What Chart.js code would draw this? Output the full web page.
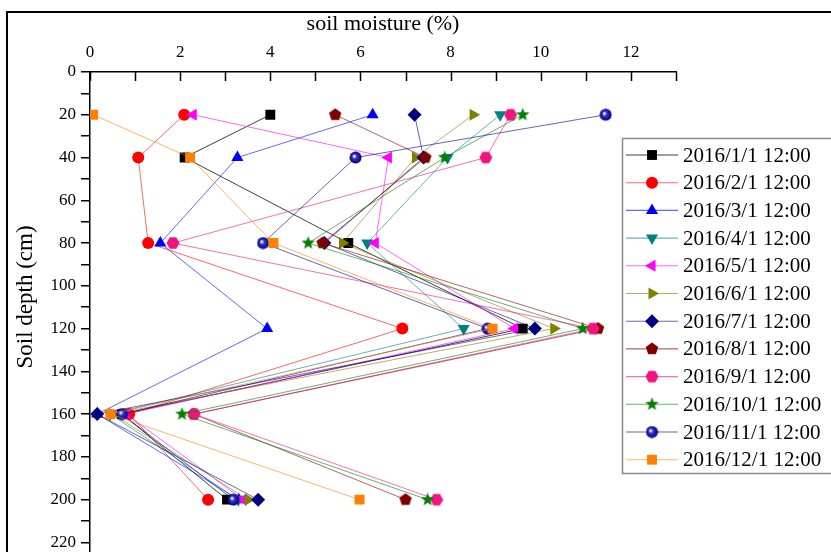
<!DOCTYPE html>
<html>
<head>
<meta charset="utf-8">
<script src="https://cdn.jsdelivr.net/npm/chart.js@4.4.0/dist/chart.umd.min.js"></script>
<style>
    html, body { margin: 0; padding: 0; background: #fff; overflow: hidden; width: 831px; height: 552px; }
    #wrap { position: absolute; left: 0; top: 0; width: 831px; height: 579px; }
    #frame { position: absolute; left: 6px; top: 11px; width: 900px; height: 700px;
             border-top: 2px solid #000; border-left: 2px solid #000; pointer-events: none; }
</style>
</head>
<body>
<div id="wrap"><canvas id="chart" width="831" height="579"></canvas></div>
<div id="frame"></div>
<script>
// soil depth (cm) of each measurement
const depths = [20, 40, 80, 120, 160, 200];

// soil moisture (%) per date, same order as depths
const jan = [4.0, 2.1, 5.73, 9.6, 0.71, 3.04];
const feb = [2.09, 1.07, 1.29, 6.93, 0.87, 2.62];
const mar = [6.27, 3.27, 1.56, 3.93, 0.16, 3.3];
const apr = [9.1, 7.93, 6.15, 8.29, 0.45, 3.29];
const may = [2.29, 6.62, 6.33, 9.42, 0.8, 3.4];
const jun = [8.5, 7.22, 5.6, 10.29, 0.5, 3.51];
const jul = [7.2, 7.4, 5.2, 9.87, 0.16, 3.73];
const aug = [5.44, 7.44, 5.16, 11.27, 2.3, 7.0];
const sep = [9.33, 8.78, 1.84, 11.16, 2.31, 7.69];
const oct = [9.6, 7.87, 4.84, 10.93, 2.04, 7.49];
const nov = [11.44, 5.89, 3.84, 8.82, 0.71, 3.18];
const dec = [0.07, 2.22, 4.07, 8.93, 0.45, 5.98];

const seriesLabels = [
    '2016/1/1 12:00', '2016/2/1 12:00', '2016/3/1 12:00', '2016/4/1 12:00',
    '2016/5/1 12:00', '2016/6/1 12:00', '2016/7/1 12:00', '2016/8/1 12:00',
    '2016/9/1 12:00', '2016/10/1 12:00', '2016/11/1 12:00', '2016/12/1 12:00'
];
const seriesValues = [jan, feb, mar, apr, may, jun, jul, aug, sep, oct, nov, dec];

const xTicks = [0, 2, 4, 6, 8, 10, 12];
const yTicks = [0, 20, 40, 60, 80, 100, 120, 140, 160, 180, 200, 220];

// small canvases for the marker shapes Chart.js does not have
function makeMarker(kind, color, size) {
    const c = document.createElement('canvas');
    c.width = size; c.height = size;
    const g = c.getContext('2d');
    const cx = size / 2, cy = size / 2, r = size / 2 - 0.5;
    g.fillStyle = color;
    g.beginPath();
    if (kind === 'ball') {
        const grad = g.createRadialGradient(cx - 1.5, cy - 1.5, 0.5, cx, cy, r);
        grad.addColorStop(0, '#ffffff');
        grad.addColorStop(0.35, '#3030c0');
        grad.addColorStop(1, color);
        g.fillStyle = grad;
        g.arc(cx, cy, r, 0, Math.PI * 2);
    } else {
        const n = kind === 'pentagon' ? 5 : kind === 'hexagon' ? 6 : 10;
        const start = kind === 'hexagon' ? 0 : -Math.PI / 2;
        for (let i = 0; i < n; i++) {
            const a = start + i * 2 * Math.PI / n;
            const rr = kind === 'star' && i % 2 === 1 ? r * 0.42 : r;
            const px = cx + rr * Math.cos(a), py = cy + rr * Math.sin(a);
            if (i === 0) g.moveTo(px, py); else g.lineTo(px, py);
        }
        g.closePath();
    }
    g.fill();
    return c;
}

const styles = [
    { color: '#000000', line: 'rgba(0,0,0,0.75)', point: 'rect', radius: 7 },
    { color: '#ff0000', line: 'rgba(255,0,0,0.6)', point: 'circle', radius: 6 },
    { color: '#0000ff', line: 'rgba(0,0,255,0.6)', point: 'triangle', radius: 7 },
    { color: '#008080', line: 'rgba(0,128,128,0.6)', point: 'triangle', radius: 7, rotation: 180 },
    { color: '#ff00ff', line: 'rgba(255,0,255,0.6)', point: 'triangle', radius: 7, rotation: -90 },
    { color: '#808000', line: 'rgba(128,128,0,0.6)', point: 'triangle', radius: 7, rotation: 90 },
    { color: '#000080', line: 'rgba(0,0,128,0.6)', point: 'rectRot', radius: 7 },
    { color: '#800000', line: 'rgba(128,0,0,0.6)', point: makeMarker('pentagon', '#800000', 14), radius: 7 },
    { color: '#f0147f', line: 'rgba(240,20,127,0.6)', point: makeMarker('hexagon', '#f0147f', 14), radius: 7 },
    { color: '#008000', line: 'rgba(0,128,0,0.6)', point: makeMarker('star', '#008000', 15), radius: 7 },
    { color: '#000080', line: 'rgba(0,0,128,0.6)', point: makeMarker('ball', '#000080', 13), radius: 7 },
    { color: '#ff8000', line: 'rgba(255,128,0,0.6)', point: 'rect', radius: 7 }
];

const datasets = seriesValues.map((vals, i) => ({
    label: seriesLabels[i],
    data: vals.map((v, k) => ({ x: v, y: depths[k] })),
    showLine: true,
    borderColor: styles[i].line,
    borderWidth: 1,
    pointStyle: styles[i].point,
    pointRotation: styles[i].rotation || 0,
    pointRadius: styles[i].radius,
    pointBackgroundColor: styles[i].color,
    pointBorderColor: styles[i].color,
    pointBorderWidth: 0,
    order: seriesValues.length - i
}));

const serif = '"Liberation Serif", "Times New Roman", serif';

// ticks on the moisture axis point down into the plot, and the legend box sits over the plot
const extrasPlugin = {
    id: 'extras',
    afterDraw(chart) {
        const ctx = chart.ctx;
        const xs = chart.scales.x;
        const top = chart.chartArea.top;
        ctx.save();
        ctx.strokeStyle = '#000';
        ctx.lineWidth = 1.5;
        for (let v = xs.min; v <= xs.max; v++) {
            const px = Math.round(xs.getPixelForValue(v)) + 0.5;
            ctx.beginPath();
            ctx.moveTo(px, top);
            ctx.lineTo(px, top + 9);
            ctx.stroke();
        }

        // y title
        ctx.save();
        ctx.translate(26, 297);
        ctx.rotate(-Math.PI / 2);
        ctx.fillStyle = '#000';
        ctx.font = '23px ' + serif;
        ctx.textAlign = 'center';
        ctx.textBaseline = 'middle';
        ctx.fillText('Soil depth (cm)', 0, 0);
        ctx.restore();

        // legend
        const lx = 622, ly = 138;
        ctx.fillStyle = '#fff';
        ctx.fillRect(lx, ly, 240, 335);
        ctx.strokeStyle = '#8a8a8a';
        ctx.lineWidth = 1.5;
        ctx.strokeRect(lx + 0.5, ly + 0.5, 240, 335);
        chart.data.datasets.forEach((ds, i) => {
            const y = ly + 17 + i * 27.7;
            ctx.strokeStyle = ds.borderColor;
            ctx.lineWidth = 1.1;
            ctx.beginPath();
            ctx.moveTo(lx + 4, y);
            ctx.lineTo(lx + 56, y);
            ctx.stroke();
            ctx.fillStyle = ds.pointBackgroundColor;
            ctx.strokeStyle = ds.pointBorderColor;
            Chart.helpers.drawPoint(ctx, {
                pointStyle: ds.pointStyle, rotation: ds.pointRotation,
                radius: ds.pointRadius, borderWidth: 0
            }, lx + 30, y);
            ctx.fillStyle = '#000';
            ctx.font = '21px ' + serif;
            ctx.textAlign = 'left';
            ctx.textBaseline = 'middle';
            ctx.fillText(ds.label, lx + 61, y + 1);
        });
        ctx.restore();
    }
};

new Chart(document.getElementById('chart').getContext('2d'), {
    type: 'scatter',
    data: { datasets: datasets },
    plugins: [extrasPlugin],
    options: {
        responsive: false,
        animation: false,
        events: [],
        layout: { padding: { left: 0, top: 0, right: 155, bottom: 0 } },
        plugins: { legend: { display: false }, tooltip: { enabled: false } },
        scales: {
            x: {
                type: 'linear',
                position: 'top',
                min: 0,
                max: 13,
                afterFit: scale => { scale.height = 72; },
                grid: { display: false, drawTicks: false },
                border: { display: true, color: '#000', width: 1.5 },
                ticks: {
                    stepSize: 1,
                    autoSkip: false,
                    padding: 9,
                    color: '#000',
                    font: { family: serif, size: 17 },
                    maxRotation: 0,
                    callback: v => xTicks.includes(v) ? String(v) : ''
                },
                title: {
                    display: true,
                    text: 'soil moisture (%)',
                    color: '#000',
                    font: { family: serif, size: 22 },
                    padding: { top: 11, bottom: 0 }
                }
            },
            y: {
                type: 'linear',
                reverse: true,
                min: 0,
                max: 230,
                afterFit: scale => { scale.width = 90; },
                grid: { drawOnChartArea: false, drawTicks: true, tickLength: 9, color: '#000', lineWidth: 1.5 },
                border: { display: true, color: '#000', width: 1.5 },
                ticks: {
                    stepSize: 10,
                    autoSkip: false,
                    padding: 5,
                    color: '#000',
                    font: { family: serif, size: 17 },
                    callback: v => yTicks.includes(v) ? String(v) : ''
                }
            }
        }
    }
});
</script>
</body>
</html>
